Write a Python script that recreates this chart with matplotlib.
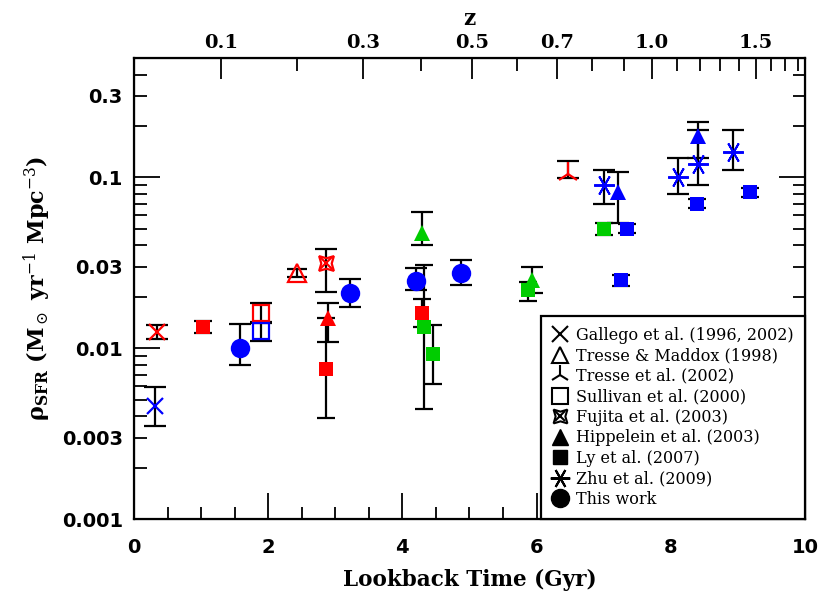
import numpy as np
import matplotlib
matplotlib.use("Agg")
import matplotlib.pyplot as plt
from matplotlib.lines import Line2D
from matplotlib.ticker import FixedLocator, FixedFormatter

plt.rcParams['mathtext.fontset'] = 'dejavuserif'

# line colour code: Ha = red, OIII = green, OII = blue
line_col = {'Ha': '#ff0000', 'OIII': '#00cc00', 'OII': '#0000ff'}

# --- data (lookback time in Gyr, SFR density, lower, upper) ---
gal_t = [0.31, 0.35]
gal_v = [0.0046, 0.0124]
gal_lo = [0.0035, 0.0113]
gal_hi = [0.0059, 0.0136]
gal_line = ['OII', 'Ha']

tm_t = [2.43]
tm_v = [0.0276]
tm_lo = [0.026]
tm_hi = [0.029]
tm_line = ['Ha']

tr_t = [6.47]
tr_v = [0.104]
tr_lo = [0.0986]
tr_hi = [0.124]
tr_line = ['Ha']

sul_t = [1.89, 1.89]
sul_v = [0.0161, 0.0126]
sul_lo = [0.0140, 0.0110]
sul_hi = [0.0184, 0.0142]
sul_line = ['Ha', 'OII']

fuj_t = [2.86]
fuj_v = [0.0316]
fuj_lo = [0.0213]
fuj_hi = [0.038]
fuj_line = ['Ha']

hip_t = [2.89, 4.29, 5.93, 7.21, 8.40]
hip_v = [0.0150, 0.0474, 0.025, 0.0816, 0.174]
hip_lo = [0.0108, 0.0404, 0.021, 0.0543, 0.130]
hip_hi = [0.0184, 0.063, 0.030, 0.107, 0.211]
hip_line = ['Ha', 'OIII', 'OIII', 'OII', 'OII']

ly_t = [1.03, 2.86, 4.29, 4.32, 4.46, 5.87, 7.00, 7.35, 7.26, 8.39, 9.18]
ly_v = [0.0133, 0.0076, 0.0160, 0.0133, 0.0092, 0.0219, 0.050, 0.050, 0.025, 0.0703, 0.0816]
ly_lo = [0.0123, 0.0039, 0.0133, 0.0044, 0.0062, 0.0189, 0.046, 0.047, 0.0232, 0.066, 0.077]
ly_hi = [0.0145, 0.0150, 0.0194, 0.0307, 0.0136, 0.0245, 0.054, 0.053, 0.0268, 0.075, 0.087]
ly_line = ['Ha', 'Ha', 'Ha', 'OIII', 'OIII', 'OIII', 'OIII', 'OII', 'OII', 'OII', 'OII']

zhu_t = [7.00, 8.11, 8.40, 8.93]
zhu_v = [0.0897, 0.100, 0.119, 0.140]
zhu_lo = [0.0703, 0.0794, 0.0897, 0.110]
zhu_hi = [0.110, 0.129, 0.189, 0.189]
zhu_line = ['OII', 'OII', 'OII', 'OII']

tw_t = [1.58, 3.22, 4.20, 4.87]
tw_v = [0.0100, 0.0211, 0.0248, 0.0276]
tw_lo = [0.0080, 0.0174, 0.0219, 0.0235]
tw_hi = [0.0138, 0.0255, 0.0296, 0.0330]
tw_line = ['OII', 'OII', 'OII', 'OII']

labels = ['Gallego et al. (1996, 2002)', 'Tresse & Maddox (1998)', 'Tresse et al. (2002)',
          'Sullivan et al. (2000)', 'Fujita et al. (2003)', 'Hippelein et al. (2003)',
          'Ly et al. (2007)', 'Zhu et al. (2009)', 'This work']

z_major = [0.1, 0.3, 0.5, 0.7, 1.0, 1.5]
z_minor = [0.2, 0.4, 0.6, 0.8, 0.9, 1.1, 1.2, 1.3, 1.4, 1.6, 1.7, 1.8, 1.9]


def lookback(z, H0=70.0, Om=0.3):
    zz = np.linspace(0, z, 4000)
    f = 1.0 / ((1 + zz) * np.sqrt(Om * (1 + zz) ** 3 + 1 - Om))
    return 977.8 / H0 * np.trapezoid(f, zz)


fig = plt.figure(figsize=(8.3, 6.04), dpi=100)
ax = fig.add_axes([0.1614, 0.1407, 0.8084, 0.7633])

groups = [
    (gal_t, gal_v, gal_lo, gal_hi, gal_line, dict(marker='x', ms=12, mew=1.6), 12),
    (tm_t, tm_v, tm_lo, tm_hi, tm_line, dict(marker='^', ms=13, mew=1.6, mfc='none'), 10),
    (tr_t, tr_v, tr_lo, tr_hi, tr_line, dict(marker='2', ms=17, mew=1.6), 12),
    (sul_t, sul_v, sul_lo, sul_hi, sul_line, dict(marker='s', ms=11, mew=1.6, mfc='none'), 12),
    (fuj_t, fuj_v, fuj_lo, fuj_hi, fuj_line, dict(marker=(4, 1, 45), ms=15, mew=1.6, mfc='none'), 12),
    (hip_t, hip_v, hip_lo, hip_hi, hip_line, dict(marker='^', ms=12, mew=0), 12),
    (ly_t, ly_v, ly_lo, ly_hi, ly_line, dict(marker='s', ms=10, mew=0), 9),
    (zhu_t, zhu_v, zhu_lo, zhu_hi, zhu_line, dict(marker=(6, 2, 90), ms=15, mew=1.4), 12),
    (tw_t, tw_v, tw_lo, tw_hi, tw_line, dict(marker='o', ms=14, mew=0), 12),
]

for t, v, lo, hi, ln, st, cap in groups:
    t = np.array(t)
    v = np.array(v)
    err = [v - np.array(lo), np.array(hi) - v]
    ax.errorbar(t, v, yerr=err, fmt='none', ecolor='black', elinewidth=1.6,
                capsize=cap / 2 + 2, capthick=1.6, zorder=2)
    for i in range(len(t)):
        c = line_col[ln[i]]
        kw = dict(st)
        if kw.get('mfc') != 'none':
            kw['mfc'] = c
        ax.plot(t[i], v[i], ls='none', color=c, mec=c, zorder=3, **kw)
        if kw['marker'] == (4, 1, 45):
            ax.plot(t[i], v[i], ls='none', marker='x', ms=8, mew=1.6, color=c, zorder=3)

ax.set_yscale('log')
ax.set_xlim(0, 10)
ax.set_ylim(0.001, 0.5)

ax.xaxis.set_major_locator(FixedLocator([0, 2, 4, 6, 8, 10]))
ax.xaxis.set_minor_locator(FixedLocator(np.arange(0, 10.01, 0.5)))
ax.yaxis.set_major_locator(FixedLocator([0.001, 0.01, 0.1]))
ax.yaxis.set_major_formatter(FixedFormatter(['0.001', '0.01', '0.1']))
ymin = [m * d for d in [0.001, 0.01, 0.1] for m in range(2, 10) if m * d < 0.5]
ax.yaxis.set_minor_locator(FixedLocator(ymin))
ax.yaxis.set_minor_formatter(FixedFormatter(['0.003' if abs(y - 0.003) < 1e-9 else
                                             '0.03' if abs(y - 0.03) < 1e-9 else
                                             '0.3' if abs(y - 0.3) < 1e-9 else '' for y in ymin]))
ax.tick_params(which='both', direction='in', top=False, right=True, width=1.3,
               labelsize=14, pad=8)
ax.tick_params(axis='x', which='both', pad=14)
ax.tick_params(which='major', length=19)
ax.tick_params(which='minor', length=9)
for lab in ax.get_xticklabels() + ax.get_yticklabels(which='both'):
    lab.set_fontweight('bold')
for s in ax.spines.values():
    s.set_linewidth(1.6)

ax.set_xlabel('Lookback Time (Gyr)', fontsize=15.5, fontweight='bold', family='DejaVu Serif', labelpad=8)
ax.set_ylabel(r'$\mathbf{\rho}_{\rm\bf SFR}$ (M$_\odot$ yr$^{-1}$ Mpc$^{-3}$)', fontsize=16,
              fontweight='bold', family='DejaVu Serif', labelpad=6)

top = ax.twiny()
top.set_xlim(0, 10)
top.set_xticks([lookback(z) for z in z_major])
top.set_xticklabels(['%.1f' % z for z in z_major], fontsize=14, fontweight='bold', family='DejaVu Serif')
top.set_xticks([lookback(z) for z in z_minor if lookback(z) < 10], minor=True)
top.tick_params(which='both', direction='in', width=1.3, pad=4)
top.tick_params(which='major', length=15)
top.tick_params(which='minor', length=9)
top.set_xlabel('z', fontsize=15.5, fontweight='bold', family='DejaVu Serif', labelpad=7)

k = 'black'
handles = [
    Line2D([], [], ls='none', marker='x', ms=12, mew=1.5, color=k),
    Line2D([], [], ls='none', marker='^', ms=12, mew=1.5, mfc='none', color=k),
    Line2D([], [], ls='none', marker='2', ms=15, mew=1.5, color=k),
    Line2D([], [], ls='none', marker='s', ms=11, mew=1.5, mfc='none', color=k),
    (Line2D([], [], ls='none', marker=(4, 1, 45), ms=14, mew=1.5, mfc='none', color=k),
     Line2D([], [], ls='none', marker='x', ms=7, mew=1.5, color=k)),
    Line2D([], [], ls='none', marker='^', ms=12, color=k),
    Line2D([], [], ls='none', marker='s', ms=10, color=k),
    Line2D([], [], ls='none', marker=(6, 2, 90), ms=14, mew=1.5, color=k),
    Line2D([], [], ls='none', marker='o', ms=13, color=k),
]
leg = ax.legend(handles, labels, loc='lower right', bbox_to_anchor=(1, 0), borderaxespad=0,
                prop={'family': 'DejaVu Serif', 'size': 11.5}, fancybox=False, framealpha=1,
                edgecolor='black', handlelength=1.0, handletextpad=0.5, labelspacing=0.22,
                borderpad=0.7)
leg.get_frame().set_linewidth(1.6)
leg.set_zorder(5)

fig.savefig('out.png', dpi=100)
